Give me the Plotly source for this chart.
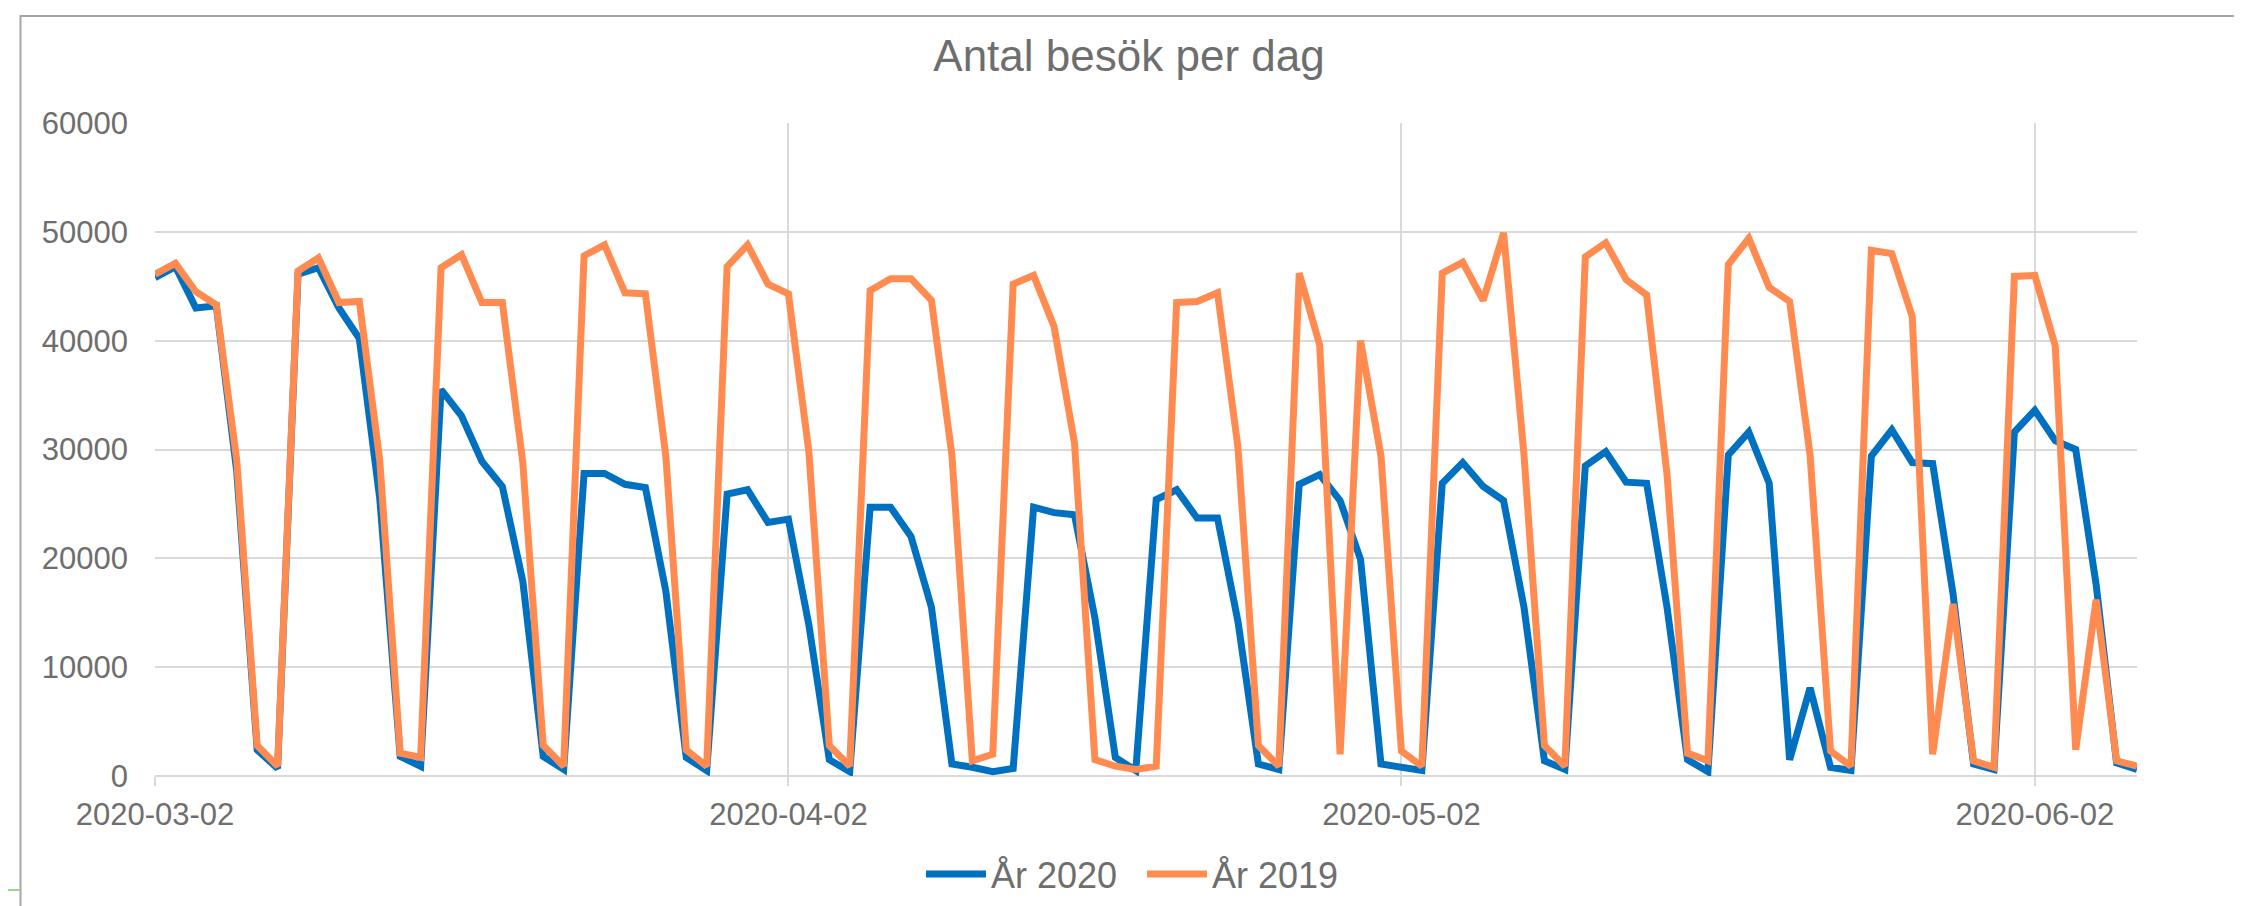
import plotly.graph_objects as go

dates = [
    "2020-03-02", "2020-03-03", "2020-03-04", "2020-03-05", "2020-03-06", "2020-03-07", "2020-03-08",
    "2020-03-09", "2020-03-10", "2020-03-11", "2020-03-12", "2020-03-13", "2020-03-14", "2020-03-15",
    "2020-03-16", "2020-03-17", "2020-03-18", "2020-03-19", "2020-03-20", "2020-03-21", "2020-03-22",
    "2020-03-23", "2020-03-24", "2020-03-25", "2020-03-26", "2020-03-27", "2020-03-28", "2020-03-29",
    "2020-03-30", "2020-03-31", "2020-04-01", "2020-04-02", "2020-04-03", "2020-04-04", "2020-04-05",
    "2020-04-06", "2020-04-07", "2020-04-08", "2020-04-09", "2020-04-10", "2020-04-11", "2020-04-12",
    "2020-04-13", "2020-04-14", "2020-04-15", "2020-04-16", "2020-04-17", "2020-04-18", "2020-04-19",
    "2020-04-20", "2020-04-21", "2020-04-22", "2020-04-23", "2020-04-24", "2020-04-25", "2020-04-26",
    "2020-04-27", "2020-04-28", "2020-04-29", "2020-04-30", "2020-05-01", "2020-05-02", "2020-05-03",
    "2020-05-04", "2020-05-05", "2020-05-06", "2020-05-07", "2020-05-08", "2020-05-09", "2020-05-10",
    "2020-05-11", "2020-05-12", "2020-05-13", "2020-05-14", "2020-05-15", "2020-05-16", "2020-05-17",
    "2020-05-18", "2020-05-19", "2020-05-20", "2020-05-21", "2020-05-22", "2020-05-23", "2020-05-24",
    "2020-05-25", "2020-05-26", "2020-05-27", "2020-05-28", "2020-05-29", "2020-05-30", "2020-05-31",
    "2020-06-01", "2020-06-02", "2020-06-03", "2020-06-04", "2020-06-05", "2020-06-06", "2020-06-07",
]

visits_2020 = [
    45800, 46800, 43000, 43200, 28000, 2400, 700,
    46100, 46700, 43000, 40200, 25500, 1800, 900,
    35500, 33100, 28900, 26600, 17900, 1800, 600,
    27800, 27800, 26800, 26500, 17000, 1700, 500,
    25900, 26300, 23300, 23600, 13900, 1500, 400,
    24700, 24700, 22000, 15500, 1100, 800, 400,
    700, 24700, 24200, 24000, 14500, 1700, 500,
    25400, 26300, 23700, 23700, 14200, 1100, 600,
    26800, 27700, 25300, 19900, 1100, 800, 500,
    26900, 28800, 26600, 25300, 15500, 1400, 600,
    28500, 29800, 27000, 26900, 15500, 1500, 400,
    29500, 31600, 26900, 1500, 8100, 800, 500,
    29400, 31800, 28800, 28700, 16700, 1100, 600,
    31600, 33600, 30800, 30000, 17600, 1200, 600,
]

visits_2019 = [
    46100, 47100, 44500, 43300, 29000, 2800, 900,
    46400, 47600, 43500, 43600, 29000, 2100, 1700,
    46700, 47900, 43500, 43500, 28800, 2800, 900,
    47800, 48800, 44400, 44300, 29400, 2400, 900,
    46800, 48800, 45200, 44300, 29800, 2800, 900,
    44600, 45700, 45700, 43700, 29500, 1400, 2000,
    45200, 46000, 41300, 30600, 1500, 900, 600,
    900, 43500, 43600, 44400, 30200, 2800, 900,
    46200, 39600, 2000, 40000, 29400, 2300, 900,
    46200, 47200, 43700, 49900, 29500, 2800, 900,
    47700, 49000, 45600, 44200, 27700, 2100, 1400,
    47000, 49400, 44900, 43600, 29500, 2300, 900,
    48300, 48000, 42200, 2000, 15800, 1400, 800,
    45900, 46000, 39500, 2400, 16200, 1400, 900,
]

series_names = ["År 2020", "År 2019"]
series_colors = ["#0070C0", "#FF8B50"]
title_text = "Antal besök per dag"

TEXT = "#6e6e6e"
GRID = "#d9d9d9"
FONT = "Liberation Sans, Arial, sans-serif"

fig = go.Figure()
for name, vals, col in zip(series_names, [visits_2020, visits_2019], series_colors):
    fig.add_trace(go.Scatter(
        x=dates, y=vals, mode="lines", name=name,
        line=dict(color=col, width=7),
    ))

W, H = 2242, 906
L, R, T, B = 147, 113, 115, 138
pw, ph = W - L - R, H - T - B

def px_x(p):
    return (p - L) / pw

def px_y(p):
    return (H - B - p) / ph

fig.update_layout(
    width=W, height=H,
    margin=dict(l=L, r=R, t=T, b=B, autoexpand=False),
    paper_bgcolor="white", plot_bgcolor="white",
    font=dict(family=FONT, color=TEXT, size=31),
    title=dict(text=title_text, x=1121 / W, xref="container", xanchor="center",
               y=1 - 48 / H, yanchor="middle",
               font=dict(size=44, color=TEXT, family=FONT)),
    showlegend=True,
    legend=dict(orientation="h", x=px_x(1134), xanchor="center",
                y=px_y(866), yanchor="middle",
                font=dict(size=36, color=TEXT, family=FONT),
                itemwidth=60, entrywidth=146, entrywidthmode="pixels",
                traceorder="normal", bgcolor="rgba(0,0,0,0)"),
    xaxis=dict(
        type="date", range=[dates[0], dates[-1]], automargin=False,
        tick0=dates[0], dtick="M1", tickformat="%Y-%m-%d",
        showgrid=True, gridcolor=GRID, gridwidth=2,
        ticks="outside", ticklen=9, tickcolor=GRID, tickwidth=2,
        ticklabelstandoff=2,
        showline=False, zeroline=False,
        tickfont=dict(size=31, color=TEXT, family=FONT),
    ),
    yaxis=dict(
        range=[0, 60000], dtick=10000, tickformat="d", automargin=False,
        showgrid=True, gridcolor=GRID, gridwidth=2,
        zeroline=True, zerolinecolor=GRID, zerolinewidth=2,
        showline=False, ticks="",
        ticklabelstandoff=26,
        tickfont=dict(size=31, color=TEXT, family=FONT),
    ),
    shapes=[
        dict(type="rect", xref="paper", yref="paper",
             x0=px_x(12.5), x1=px_x(2240), y0=px_y(930), y1=px_y(8),
             line=dict(color="#a6a6a6", width=2), fillcolor="rgba(0,0,0,0)", layer="below"),
        dict(type="line", xref="paper", yref="paper",
             x0=px_x(0), x1=px_x(12), y0=px_y(882), y1=px_y(882),
             line=dict(color="#9bd38f", width=2)),
    ],
)

fig.write_html("out.html")
